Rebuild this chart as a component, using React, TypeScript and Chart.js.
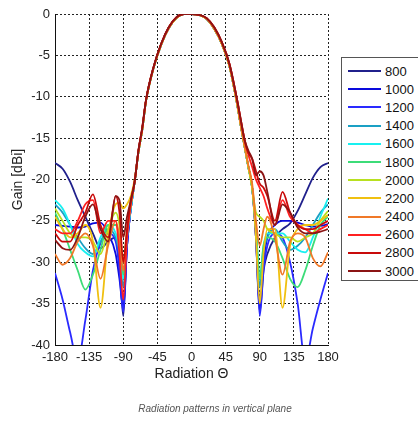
import React, { useEffect, useRef } from 'react';
import { Chart, registerables } from 'chart.js';

Chart.register(...registerables);

const frequencies = ['800', '1000', '1200', '1400', '1600', '1800', '2000', '2200', '2400', '2600', '2800', '3000'];
const colors = ['#20208c', '#0a0adc', '#2a2aff', '#1aa0c4', '#18f0f0', '#3cdc78', '#b8e020', '#f0c010', '#f07828', '#ff2020', '#c80a0a', '#8c1414'];

const leftAngles = [-180, -170, -160, -150, -140, -130, -120, -110, -100, -95, -90, -85, -80, -75];
const mainAngles = [-70, -65, -60, -50, -40, -30, -20, -10, 0, 10, 20, 30, 40, 50, 60, 65, 70];
const rightAngles = [75, 80, 85, 90, 95, 100, 110, 120, 130, 140, 150, 160, 170, 180];

const mainLobe = [-16.7, -14, -10.5, -6.5, -3.7, -1.7, -0.5, 0, 0, -0.1, -0.6, -1.8, -3.6, -6.3, -10.8, -13.5, -16];
const mainLobeRed = [-16.5, -13.8, -10.4, -6.4, -3.6, -1.6, -0.4, 0, 0, -0.1, -0.5, -1.6, -3.4, -6.0, -10.3, -12.8, -15.2];

const leftTails = [
  [-18, -18.7, -20.3, -22.5, -24.5, -26.5, -28.3, -27.5, -27, -30, -36.5, -28, -23.5, -20.3],
  [-25.5, -25.6, -25.7, -25.8, -25.7, -25.3, -25.2, -26.5, -29, -32, -35.5, -28, -23.5, -20.3],
  [-31.3, -34.5, -38.5, -42, -37, -31, -27.7, -26.5, -27.5, -31, -36, -28, -23.5, -20.3],
  [-23, -24, -25.5, -27, -28.3, -29, -27.5, -26, -27, -29, -33, -27, -23.5, -20.3],
  [-22.5, -23.5, -25.5, -27.8, -28.8, -29.3, -27, -25.5, -26.5, -28.5, -32, -27, -23.5, -20.3],
  [-24, -26, -28.5, -31, -33.3, -31.5, -28.5, -25.5, -25.5, -27, -31.5, -26.5, -23, -20.3],
  [-23.5, -25, -26.5, -27, -27, -27.5, -29, -26, -24, -25.5, -30, -26, -23, -20.3],
  [-24.5, -26, -27, -26.5, -25.5, -27.5, -35.5, -27, -23, -22.8, -23.5, -23, -22, -20],
  [-29, -30.3, -29.5, -27.5, -26.5, -28, -32, -28, -25, -27, -31, -26.5, -23, -20.3],
  [-26, -26.5, -26.5, -25, -23, -22.5, -26.5, -25, -25, -29, -34.5, -27, -23, -20.3],
  [-26.5, -27.5, -27.5, -25.5, -24, -21.8, -25.5, -27, -22, -24, -30, -26, -22.5, -20.3],
  [-27.3, -28.3, -28.5, -27, -24.5, -23, -26, -27.5, -22, -22.5, -27, -24.5, -22.5, -20.3],
];

const rightTails = [
  [-18.5, -21, -27, -36, -31, -29, -27, -26, -25.3, -23.8, -21.8, -19.8, -18.5, -18],
  [-18.5, -21, -27, -35.5, -30, -27, -25.5, -25, -25, -25.2, -25.5, -25.7, -25.6, -25.4],
  [-18.5, -21, -27, -36.5, -31, -28, -26.5, -27, -30, -35, -42, -38, -34.5, -31.3],
  [-18.5, -21, -26, -33, -28.5, -27, -26, -27.5, -28.5, -28, -27, -25.5, -24, -23],
  [-18.5, -21, -26, -32, -28, -26.5, -26.5, -26.5, -27.5, -28.5, -28.8, -27, -24.5, -22.3],
  [-18.5, -21, -26, -32, -28, -27, -27.5, -29.5, -32, -33, -31, -28, -25.5, -24.5],
  [-18.5, -21, -24, -24.5, -25, -26, -26.5, -27, -27, -27.5, -27, -26.5, -25, -23.8],
  [-18.5, -21, -27, -35, -29, -26, -26, -35.5, -28, -26, -25.5, -25.5, -25, -24.3],
  [-18.3, -20.5, -25, -28, -26, -24.5, -27, -31.5, -27.5, -26.5, -27, -29.5, -30.5, -28.8],
  [-17, -18.5, -20, -21, -22, -23.5, -25.5, -22.5, -24.5, -25.5, -26, -26.5, -26, -25.5],
  [-16.8, -17.5, -19, -20.5, -21, -22, -25, -21.5, -24, -25.5, -26, -26, -25.5, -25],
  [-16.5, -17.5, -19.5, -19, -19.5, -21.5, -25.5, -23, -24, -25.8, -26.5, -26.5, -26.3, -26],
];

const xTicks = [-180, -135, -90, -45, 0, 45, 90, 135, 180];
const yTicks = [-40, -35, -30, -25, -20, -15, -10, -5, 0];

const angles = [...leftAngles, ...mainAngles, ...rightAngles];

export default function App() {
  const ref = useRef<HTMLCanvasElement | null>(null);

  useEffect(() => {
    if (!ref.current) return;
    const datasets = frequencies.map((f, i) => {
      const lobe = i >= 9 ? mainLobeRed : mainLobe;
      const ys = [...leftTails[i], ...lobe, ...rightTails[i]];
      return {
        label: f,
        data: angles.map((a, k) => ({ x: a, y: ys[k] })),
        borderColor: colors[i],
        backgroundColor: colors[i],
        borderWidth: 1.8,
        pointRadius: 0,
        fill: false,
        cubicInterpolationMode: 'monotone' as const,
        order: frequencies.length - i,
      };
    });
    const gridOpts = { color: '#222', lineWidth: 1, drawTicks: false };
    const borderOpts = { display: true, color: '#111', width: 1, dash: [2, 2] };
    const font = { family: 'Liberation Sans, Arial', size: 13 };
    const chart = new Chart(ref.current, {
      type: 'line',
      data: { datasets },
      options: {
        animation: false,
        responsive: false,
        layout: { padding: { left: 0, right: 90, top: 14, bottom: 42 } },
        plugins: { legend: { display: false }, tooltip: { enabled: false } },
        scales: {
          x: {
            type: 'linear',
            min: -180,
            max: 180,
            afterBuildTicks: (s: any) => { s.ticks = xTicks.map((v) => ({ value: v })); },
            afterFit: (s: any) => { s.height = 38; },
            ticks: { color: '#222', font, padding: 5, maxRotation: 0, autoSkip: false },
            grid: gridOpts,
            border: borderOpts,
            title: { display: true, text: 'Radiation Θ', color: '#222', font: { family: 'Liberation Sans, Arial', size: 14 }, padding: { top: 2, bottom: 0 } },
          },
          y: {
            type: 'linear',
            min: -40,
            max: 0,
            afterBuildTicks: (s: any) => { s.ticks = yTicks.map((v) => ({ value: v })); },
            afterFit: (s: any) => { s.width = 55; },
            ticks: { color: '#222', font, padding: 5, autoSkip: false },
            grid: gridOpts,
            border: borderOpts,
            title: { display: true, text: 'Gain [dBi]', color: '#222', font: { family: 'Liberation Sans, Arial', size: 14 }, padding: { top: 10, bottom: 0 } },
          },
        },
      },
    } as any);
    return () => chart.destroy();
  }, []);

  return (
    <div style={{ position: 'absolute', left: 0, top: 0, width: 418, height: 425, background: '#fff', overflow: 'hidden' }}>
      <canvas ref={ref} width={418} height={425} style={{ width: 418, height: 425, display: 'block' }} />
      <div
        style={{
          position: 'absolute', left: 341, top: 57, width: 90, height: 224,
          border: '1px solid #555', background: '#fff', boxSizing: 'border-box',
          fontFamily: 'Liberation Sans, Arial, sans-serif', fontSize: 13, color: '#111',
          paddingTop: 4,
        }}
      >
        {frequencies.map((f, i) => (
          <div key={f} style={{ display: 'flex', alignItems: 'center', height: 18.2 }}>
            <span style={{ display: 'inline-block', width: 33, height: 2, background: colors[i], marginLeft: 6, marginRight: 4 }} />
            <span>{f}</span>
          </div>
        ))}
      </div>
      <div
        style={{
          position: 'absolute', left: 0, width: 430, top: 403, textAlign: 'center',
          fontFamily: 'Liberation Sans, Arial, sans-serif', fontStyle: 'italic', fontSize: 10, color: '#555',
        }}
      >
        Radiation patterns in vertical plane
      </div>
    </div>
  );
}
